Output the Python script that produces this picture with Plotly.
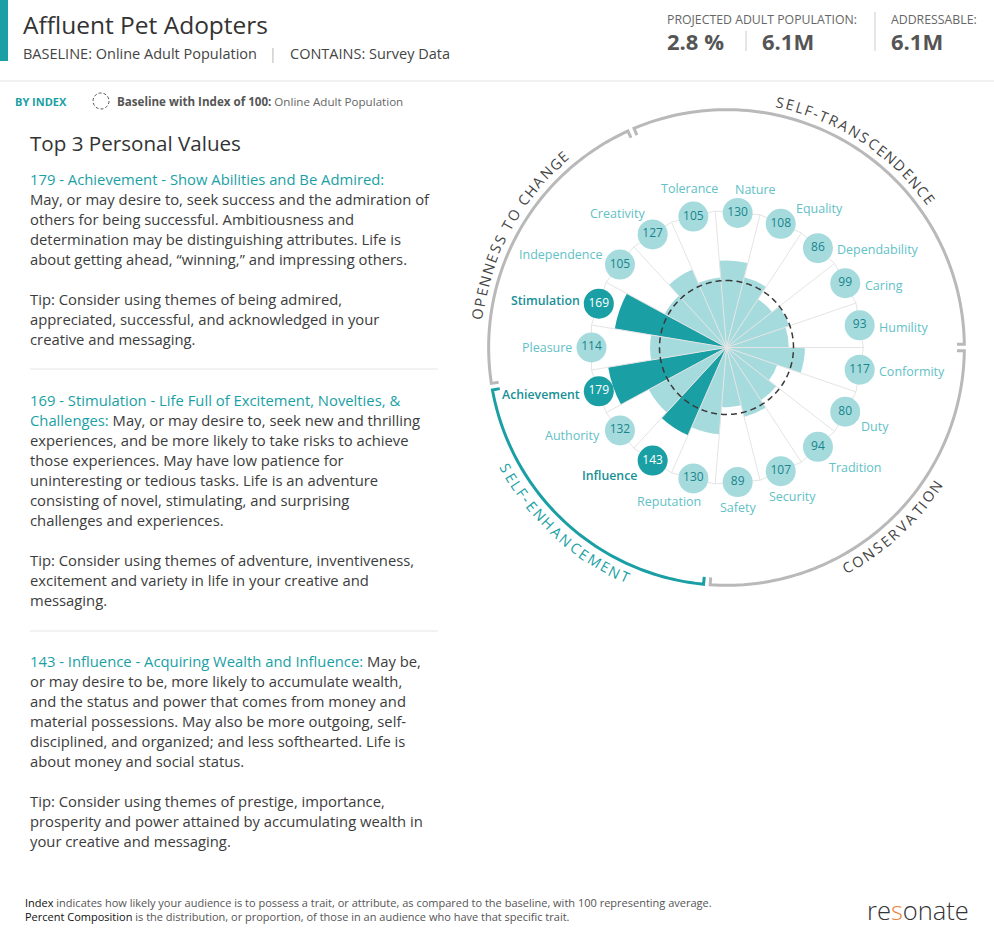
import math
import plotly.graph_objects as go

W, H = 994, 944

# ---------------- data ----------------
categories = ["Nature", "Equality", "Dependability", "Caring", "Humility", "Conformity",
              "Duty", "Tradition", "Security", "Safety", "Reputation", "Influence",
              "Authority", "Achievement", "Pleasure", "Stimulation", "Independence",
              "Creativity", "Tolerance"]
index_values = [130, 108, 86, 99, 93, 117, 80, 94, 107, 89, 130, 143, 132, 179, 114, 169, 105, 127, 105]
top_values = ["Achievement", "Stimulation", "Influence"]
baseline_index = 100

group_names = ["SELF-TRANSCENDENCE", "CONSERVATION", "SELF-ENHANCEMENT", "OPENNESS TO CHANGE"]
group_members = [
    ["Tolerance", "Nature", "Equality", "Dependability", "Caring", "Humility"],
    ["Conformity", "Duty", "Tradition", "Security", "Safety"],
    ["Reputation", "Influence", "Authority", "Achievement"],
    ["Pleasure", "Stimulation", "Independence", "Creativity"],
]
highlight_group = "SELF-ENHANCEMENT"

title = "Affluent Pet Adopters"
baseline_label = "BASELINE: Online Adult Population"
contains_label = "CONTAINS: Survey Data"
projected_label = "PROJECTED ADULT POPULATION:"
projected_pct = "2.8 %"
projected_count = "6.1M"
addressable_label = "ADDRESSABLE:"
addressable_count = "6.1M"

panel_title = "Top 3 Personal Values"
block_heads = [
    ["179 - Achievement - Show Abilities and Be Admired:"],
    ["169 - Stimulation - Life Full of Excitement, Novelties, &", "Challenges:"],
    ["143 - Influence - Acquiring Wealth and Influence:"],
]
block_lines = [
    ["", "May, or may desire to, seek success and the admiration of",
     "others for being successful. Ambitiousness and",
     "determination may be distinguishing attributes. Life is",
     "about getting ahead, \u201cwinning,\u201d and impressing others.",
     "",
     "Tip: Consider using themes of being admired,",
     "appreciated, successful, and acknowledged in your",
     "creative and messaging."],
    ["", " May, or may desire to, seek new and thrilling",
     "experiences, and be more likely to take risks to achieve",
     "those experiences. May have low patience for",
     "uninteresting or tedious tasks. Life is an adventure",
     "consisting of novel, stimulating, and surprising",
     "challenges and experiences.",
     "",
     "Tip: Consider using themes of adventure, inventiveness,",
     "excitement and variety in life in your creative and",
     "messaging."],
    [" May be,",
     "or may desire to be, more likely to accumulate wealth,",
     "and the status and power that comes from money and",
     "material possessions. May also be more outgoing, self-",
     "disciplined, and organized; and less softhearted. Life is",
     "about money and social status.",
     "",
     "Tip: Consider using themes of prestige, importance,",
     "prosperity and power attained by accumulating wealth in",
     "your creative and messaging."],
]
footer_lines = [
    ("Index", " indicates how likely your audience is to possess a trait, or attribute, as compared to the baseline, with 100 representing average."),
    ("Percent Composition", " is the distribution, or proportion, of those in an audience who have that specific trait."),
]

# ---------------- style / geometry ----------------
FONT = "Open Sans"
TEAL = "#1a9fa5"
LIGHT = "#a6dbde"
LABEL_LIGHT = "#62c1c6"
LABEL_DARK = "#178f96"
BUBBLE_TXT = "#17858b"
TXT = "#3c3c3c"
RING = "#b9b9b9"

CX, CY = 726.5, 347.5      # chart centre (px)
K = 0.67                   # px per index unit
RMAX = 360
RPX = RMAX * K
N = len(categories)
STEP = 360.0 / N
R_VERTEX = 204.3
R_BUBBLE = R_VERTEX * math.cos(math.radians(STEP / 2))
R_RING = 355
R_TICK = 344
GAP = 0.8


def th(i):
    return 90 + (i - 4.5) * STEP


def pix(r, t):
    a = math.radians(t)
    return CX + r * K * math.sin(a), CY - r * K * math.cos(a)


def px(x):
    return x / W


def py(y):
    return 1 - y / H


thetas = [th(i) for i in range(N)]
is_top = [c in top_values for c in categories]

fig = go.Figure()

# bars
fig.add_trace(go.Barpolar(
    r=index_values, theta=thetas, width=[STEP] * N,
    marker=dict(color=[TEAL if t else LIGHT for t in is_top], line=dict(width=0)),
    hoverinfo="skip", showlegend=False))

# spokes
sr, st = [], []
for i in range(N):
    b = thetas[i] - STEP / 2
    sr += [0, R_VERTEX, None]
    st += [b, b, None]
fig.add_trace(go.Scatterpolar(r=sr, theta=st, mode="lines",
                              line=dict(color="#e4e4e4", width=1),
                              hoverinfo="skip", showlegend=False))
# polygon
pr = [R_VERTEX] * (N + 1)
pt = [thetas[i % N] - STEP / 2 for i in range(N + 1)]
fig.add_trace(go.Scatterpolar(r=pr, theta=pt, mode="lines",
                              line=dict(color="#e4e4e4", width=1),
                              hoverinfo="skip", showlegend=False))
# baseline dashed circle
fig.add_trace(go.Scatterpolar(r=[baseline_index] * 361, theta=list(range(361)), mode="lines",
                              line=dict(color="#3a3a3a", width=1.5, dash="6px,4px"),
                              hoverinfo="skip", showlegend=False))

# group ring arcs
group_ranges = []
for name, members in zip(group_names, group_members):
    idx = [categories.index(m) for m in members]
    for k in range(1, len(idx)):
        while idx[k] < idx[k - 1]:
            idx[k] += N
    a0 = th(idx[0]) - STEP / 2
    a1 = th(idx[-1]) + STEP / 2
    group_ranges.append((name, a0, a1))
    s, e = a0 + GAP, a1 - GAP
    n = 80
    ang = [s + (e - s) * j / n for j in range(n + 1)]
    rr = [R_TICK] + [R_RING] * (n + 1) + [R_TICK]
    tt = [s] + ang + [e]
    col = TEAL if name == highlight_group else RING
    fig.add_trace(go.Scatterpolar(r=rr, theta=tt, mode="lines",
                                  line=dict(color=col, width=3),
                                  hoverinfo="skip", showlegend=False))

# bubbles
fig.add_trace(go.Scatterpolar(
    r=[R_BUBBLE] * N, theta=thetas, mode="markers+text",
    marker=dict(size=30, color=[TEAL if t else LIGHT for t in is_top], line=dict(width=0), opacity=1),
    text=[str(v) for v in index_values], textposition="middle center",
    textfont=dict(family=FONT, size=12, color=["white" if t else BUBBLE_TXT for t in is_top]),
    hoverinfo="skip", showlegend=False))

annotations = []
shapes = []


def ann(x, y, text, size, color=TXT, xanchor="left", yanchor="middle", angle=0, family=FONT, weight=None):
    f = dict(family=family, size=size, color=color)
    if weight:
        f["weight"] = weight
    annotations.append(dict(x=px(x), y=py(y), xref="paper", yref="paper", text=text,
                            showarrow=False, xanchor=xanchor, yanchor=yanchor,
                            textangle=angle, font=f, borderpad=0))


# category labels
label_offsets = {
    "Nature": (18, -23, "center"), "Equality": (14, -15, "left"),
    "Dependability": (18, 1, "left"), "Caring": (19, 2, "left"),
    "Humility": (18, 2, "left"), "Conformity": (18, 2, "left"),
    "Duty": (15, 15, "left"), "Tradition": (10, 21, "left"),
    "Security": (12, 25, "center"), "Safety": (0, 25, "center"),
    "Reputation": (-24, 23, "center"), "Influence": (-15, 15, "right"),
    "Authority": (-19, 5, "right"), "Achievement": (-18, 3, "right"),
    "Pleasure": (-18, 0, "right"), "Stimulation": (-18, -3, "right"),
    "Independence": (-16, -10, "right"), "Creativity": (-7, -21, "right"),
    "Tolerance": (-4, -28, "center"),
}
for i, c in enumerate(categories):
    bx, by = pix(R_BUBBLE, thetas[i])
    dx, dy, xa = label_offsets[c]
    if is_top[i]:
        ann(bx + dx, by + dy, c, 12.3, LABEL_DARK, xanchor=xa, weight=600)
    else:
        ann(bx + dx, by + dy, c, 12.5, LABEL_LIGHT, xanchor=xa)

# group labels along arc
EM = {"S": .64, "E": .62, "L": .55, "F": .58, "-": .40, "T": .60, "R": .68, "A": .74,
      "N": .78, "C": .70, "D": .76, "O": .82, "P": .65, " ": .32, "H": .78, "G": .76,
      "M": .90, "V": .72, "I": .32}
GFS = 14.5
SPACING = 0.08
R_TXT = 251
for name, a0, a1 in group_ranges:
    mid = (a0 + a1) / 2
    widths = [(EM.get(ch, .65) + SPACING) * GFS for ch in name]
    total = sum(widths)
    top = (mid % 360) > 270 or (mid % 360) < 90
    col = TEAL if name == highlight_group else "#454545"
    cum = 0
    for ch, w in zip(name, widths):
        c = cum + w / 2 - total / 2
        cum += w
        if ch == " ":
            continue
        d = math.degrees(c / R_TXT)
        if top:
            a = mid + d
            rot = ((a + 180) % 360) - 180
        else:
            a = mid - d
            rot = ((a - 180 + 180) % 360) - 180
        x = CX + R_TXT * math.sin(math.radians(a))
        y = CY - R_TXT * math.cos(math.radians(a))
        ann(x, y, ch, GFS, col, xanchor="center", yanchor="middle", angle=rot)

# ---------------- header ----------------
shapes.append(dict(type="rect", xref="paper", yref="paper", x0=px(0), x1=px(8), y0=py(0), y1=py(61),
                   fillcolor=TEAL, line=dict(width=0)))
ann(22, 24, title, 24.5, "#333333")
ann(22, 54, baseline_label, 14.5, "#444444")
ann(273, 54, "|", 14, "#bbbbbb", xanchor="center")
ann(289, 54, contains_label, 14.5, "#444444")

ann(666, 20, projected_label, 12.3, "#666666")
ann(666, 41, "<b>%s</b>" % projected_pct, 22, "#555555")
shapes.append(dict(type="line", xref="paper", yref="paper", x0=px(746), x1=px(746), y0=py(31), y1=py(51),
                   line=dict(color="#cccccc", width=1)))
ann(761, 41, "<b>%s</b>" % projected_count, 22, "#555555")
shapes.append(dict(type="line", xref="paper", yref="paper", x0=px(875), x1=px(875), y0=py(12), y1=py(51),
                   line=dict(color="#cccccc", width=1)))
ann(890, 20, addressable_label, 12.3, "#666666")
ann(890, 41, "<b>%s</b>" % addressable_count, 22, "#555555")

shapes.append(dict(type="line", xref="paper", yref="paper", x0=0, x1=1, y0=py(81), y1=py(81),
                   line=dict(color="#e3e3e3", width=1)))

ann(14, 101, "<b>BY INDEX</b>", 11, TEAL)
shapes.append(dict(type="circle", xref="paper", yref="paper", x0=px(93), x1=px(109), y0=py(93), y1=py(109),
                   line=dict(color="#555555", width=1, dash="3px,2px")))
ann(116, 101, "<b>Baseline with Index of 100:</b> <span style='color:#666'>Online Adult Population</span>",
    11.6, "#555555")

# ---------------- left panel ----------------
ann(29, 143, panel_title, 20.6, "#333333")
block_starts = [179, 400, 661]
LS = 20
for heads, lines, y0 in zip(block_heads, block_lines, block_starts):
    for j, ln in enumerate(lines):
        txt = ""
        if j < len(heads):
            txt += "<span style='color:%s'>%s</span>" % (TEAL, heads[j])
        txt += ln
        if txt:
            ann(29, y0 + j * LS, txt, 14.8, TXT)
for ys in [369, 631]:
    shapes.append(dict(type="line", xref="paper", yref="paper", x0=px(30), x1=px(438), y0=py(ys), y1=py(ys),
                       line=dict(color="#e6e6e6", width=1)))

# ---------------- footer ----------------
for k, (b, rest) in enumerate(footer_lines):
    ann(24, 902 + 14 * k, "<span style='color:#111'>%s</span>%s" % (b, rest), 11, "#555555")
ann(918, 910, "re<span style='color:#e8833a'>s</span>onate", 25.5, "#333333", xanchor="center", weight=300)

fig.update_layout(
    width=W, height=H, margin=dict(l=0, r=0, t=0, b=0),
    paper_bgcolor="white", plot_bgcolor="white",
    showlegend=False,
    polar=dict(
        domain=dict(x=[(CX - RPX) / W, (CX + RPX) / W], y=[1 - (CY + RPX) / H, 1 - (CY - RPX) / H]),
        bgcolor="rgba(0,0,0,0)",
        radialaxis=dict(range=[0, RMAX], visible=False, showgrid=False, showline=False,
                        showticklabels=False, ticks=""),
        angularaxis=dict(rotation=90, direction="clockwise", thetaunit="degrees", visible=False,
                         showgrid=False, showline=False, showticklabels=False, ticks=""),
        barmode="overlay",
    ),
    annotations=annotations, shapes=shapes,
)

fig.write_html("out.html")
